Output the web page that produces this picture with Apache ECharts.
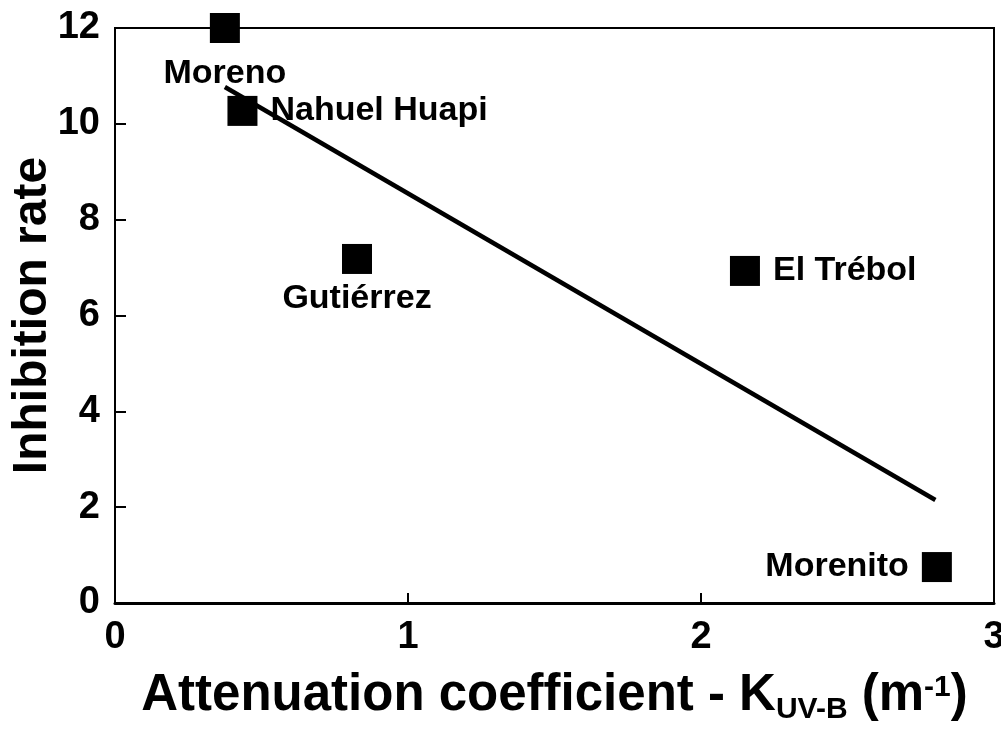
<!DOCTYPE html>
<html>
<head>
<meta charset="utf-8">
<script src="https://cdn.jsdelivr.net/npm/echarts@6/dist/echarts.min.js"></script>
<style>
  html, body { margin: 0; padding: 0; background: #fff; }
  #chart { width: 1001px; height: 729px; }
</style>
</head>
<body>
<div id="chart"></div>
<script>
// lakes
var lakes = ['Moreno', 'Nahuel Huapi', 'Gutiérrez', 'El Trébol', 'Morenito'];
var kuvb = [0.375, 0.435, 0.826, 2.15, 2.805];
var inhibition = [12.0, 10.27, 7.18, 6.93, 0.75];

// regression line end points
var fitX = [0.375, 2.80];
var fitY = [10.77, 2.15];

var xTicks = [0, 1, 2, 3];
var yTicks = [0, 2, 4, 6, 8, 10, 12];

var FONT = '"Liberation Sans", Arial, Helvetica, sans-serif';

// where each lake name sits relative to its square
var labelLayout = {
  'Moreno': { position: 'bottom', distance: 14 },
  'Nahuel Huapi': { position: 'right', distance: 13 },
  'Gutiérrez': { position: 'bottom', distance: 8 },
  'El Trébol': { position: 'right', distance: 13 },
  'Morenito': { position: 'left', distance: 13 }
};

var chart = echarts.init(document.getElementById('chart'));

var points = lakes.map(function (name, i) {
  return {
    name: name,
    value: [kuvb[i], inhibition[i]],
    label: labelLayout[name]
  };
});

var option = {
  animation: false,
  backgroundColor: '#fff',
  grid: {
    left: 115,
    right: 7,
    top: 28,
    bottom: 126,
    outerBoundsMode: 'none',
    containLabel: false,
    show: true,
    borderColor: '#000',
    borderWidth: 2,
    backgroundColor: 'transparent'
  },
  xAxis: {
    type: 'value',
    min: xTicks[0],
    max: xTicks[xTicks.length - 1],
    interval: 1,
    splitLine: { show: false },
    axisLine: { lineStyle: { color: '#000', width: 3 } },
    axisTick: { inside: true, length: 10, lineStyle: { color: '#000', width: 2 } },
    axisLabel: {
      color: '#000', fontSize: 38, fontWeight: 'bold', fontFamily: FONT, margin: 16
    },
    name: '{m|Attenuation coefficient - K}{sub|UV-B}{m| (m}{sup|-1}{m|)}',
    nameLocation: 'middle',
    nameGap: 64,
    nameMoveOverlap: false,
    nameTextStyle: {
      color: '#000',
      rich: {
        m: { fontSize: 51, fontWeight: 'bold', fontFamily: FONT, lineHeight: 58, color: '#000' },
        sub: { fontSize: 30, fontWeight: 'bold', fontFamily: FONT, lineHeight: 26, verticalAlign: 'bottom', color: '#000' },
        sup: { fontSize: 30, fontWeight: 'bold', fontFamily: FONT, lineHeight: 58, verticalAlign: 'top', padding: [6, 0, 0, 0], color: '#000' }
      }
    }
  },
  yAxis: {
    type: 'value',
    min: yTicks[0],
    max: yTicks[yTicks.length - 1],
    interval: 2,
    splitLine: { show: false },
    axisLine: { lineStyle: { color: '#000', width: 2 } },
    axisTick: { inside: true, length: 11, lineStyle: { color: '#000', width: 2 } },
    axisLabel: {
      color: '#000', fontSize: 38, fontWeight: 'bold', fontFamily: FONT, margin: 15
    },
    name: 'Inhibition rate',
    nameLocation: 'middle',
    nameGap: 58,
    nameMoveOverlap: false,
    nameTextStyle: {
      color: '#000', fontSize: 48, fontWeight: 'bold', fontFamily: FONT, lineHeight: 48
    }
  },
  series: [
    {
      type: 'line',
      data: [[fitX[0], fitY[0]], [fitX[1], fitY[1]]],
      symbol: 'none',
      lineStyle: { color: '#000', width: 4.5 },
      z: 2
    },
    {
      type: 'scatter',
      symbol: 'rect',
      symbolSize: 30,
      itemStyle: { color: '#000', opacity: 1 },
      label: {
        show: true,
        formatter: '{b}',
        color: '#000',
        fontSize: 34,
        fontWeight: 'bold',
        fontFamily: FONT
      },
      data: points,
      z: 3
    }
  ]
};

chart.setOption(option);
</script>
</body>
</html>
